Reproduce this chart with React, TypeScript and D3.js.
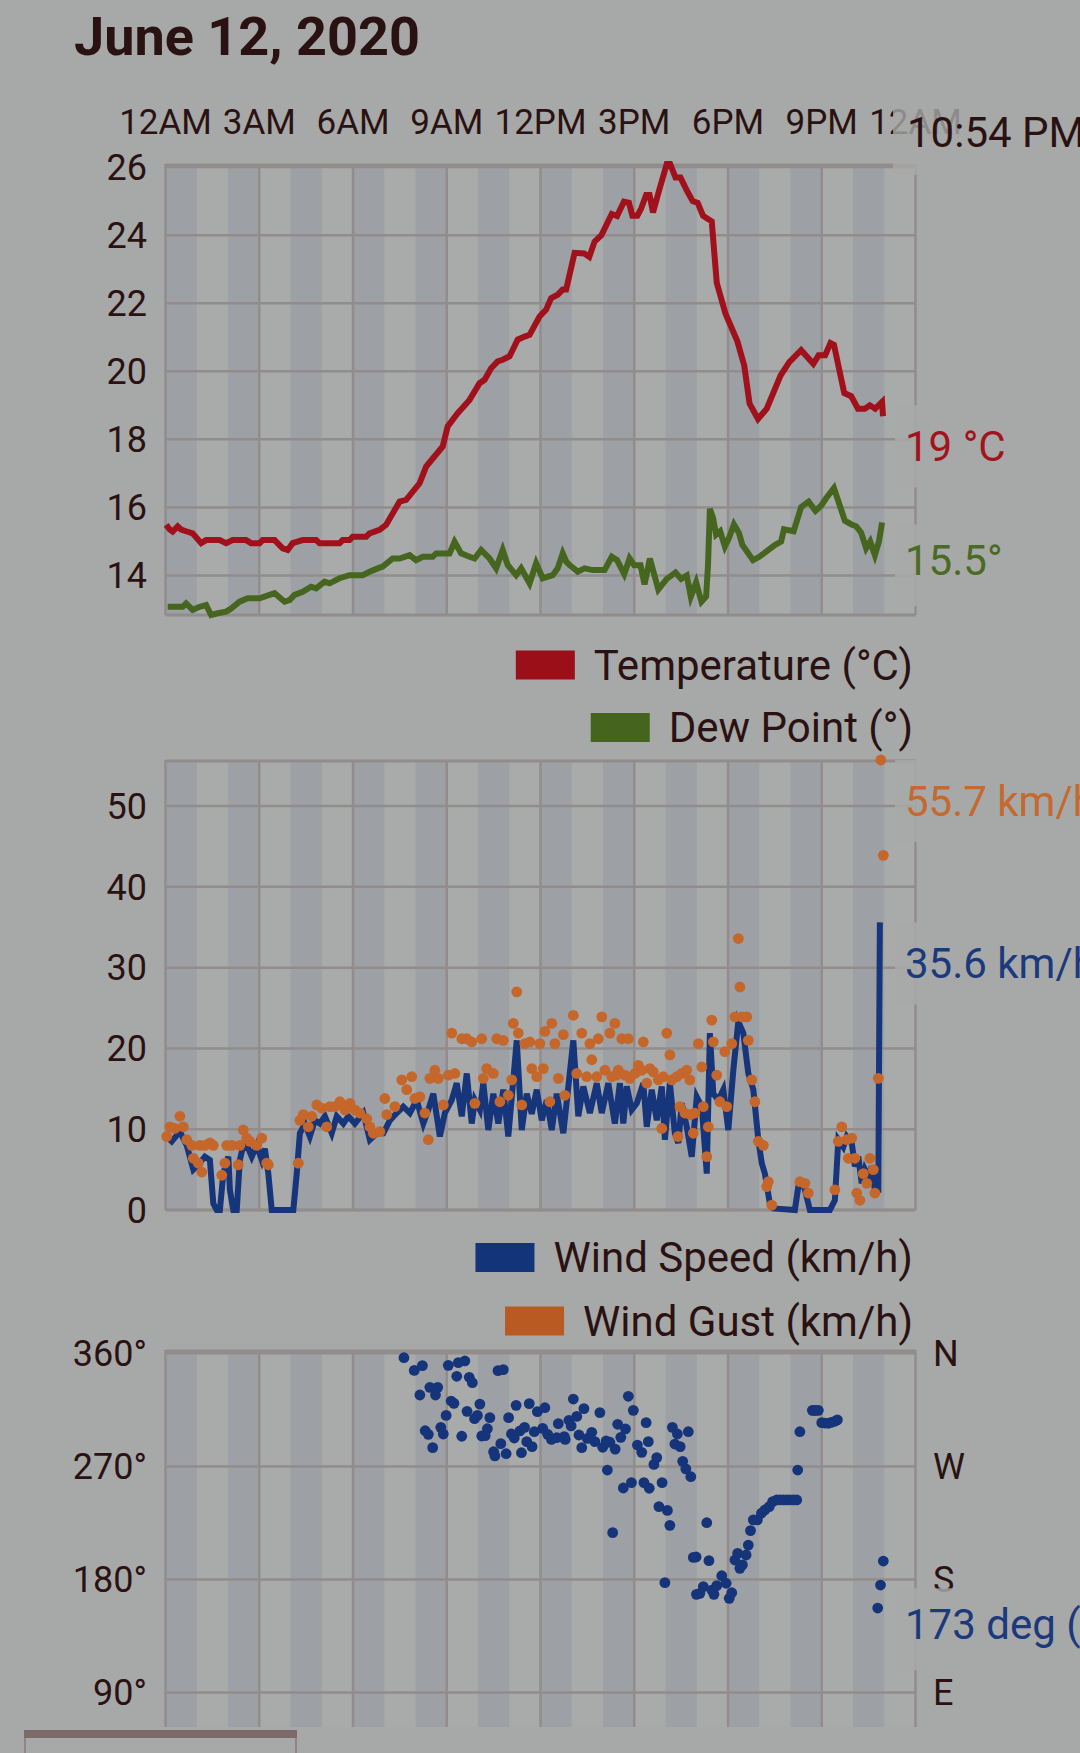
import * as d3 from "d3";
import { useEffect, useRef } from "react";

const W = 1080;
const H = 1753;

const BG = "#a7a9a8";
const STRIPE = "#9da0a5";
const GRID = "#928d8c";
const INK = "#2b1212";

const hourTicks = [0, 3, 6, 9, 12, 15, 18, 21, 24];
const hourLabels = ["12AM", "3AM", "6AM", "9AM", "12PM", "3PM", "6PM", "9PM", "12AM"];
const nowLabel = "10:54 PM";

const tempTicks = [14, 16, 18, 20, 22, 24, 26];
const windTicks = [0, 10, 20, 30, 40, 50];
const dirTicks = [90, 180, 270, 360];
const dirTickLabels = ["90°", "180°", "270°", "360°"];
const compassLabels = ["E", "S", "W", "N"];

// [hour of day, value]
const temperature: [number, number][] = [
  [0.02, 15.49], [0.14, 15.35], [0.23, 15.29], [0.39, 15.44], [0.5, 15.35], [0.66, 15.3], [0.87, 15.24],
  [1.14, 14.95], [1.3, 15.04], [1.73, 15.04], [1.94, 14.95], [2.15, 15.04], [2.58, 15.04], [2.74, 14.95],
  [3.01, 14.95], [3.11, 15.04], [3.49, 15.04], [3.75, 14.8], [3.91, 14.75], [4.07, 14.95], [4.39, 15.04],
  [4.82, 15.04], [4.93, 14.95], [5.57, 14.95], [5.67, 15.04], [5.89, 15.04], [5.99, 15.14], [6.42, 15.14],
  [6.53, 15.24], [6.85, 15.34], [7.06, 15.49], [7.49, 16.17], [7.7, 16.22], [8.13, 16.71], [8.34, 17.2],
  [8.87, 17.79], [9.03, 18.38], [9.35, 18.77], [9.73, 19.16], [10.05, 19.65], [10.21, 19.75], [10.42, 20.09],
  [10.63, 20.29], [10.79, 20.34], [11.01, 20.44], [11.27, 20.93], [11.49, 21.02], [11.65, 21.07], [11.97, 21.61],
  [12.18, 21.81], [12.34, 22.15], [12.55, 22.25], [12.71, 22.4], [12.82, 22.4], [13.09, 23.48], [13.4, 23.46],
  [13.56, 23.36], [13.73, 23.81], [13.95, 24.0], [14.28, 24.62], [14.45, 24.56], [14.67, 24.98], [14.83, 24.95],
  [14.94, 24.57], [15.1, 24.57], [15.22, 24.78], [15.38, 25.18], [15.49, 25.18], [15.6, 24.67], [15.77, 25.23],
  [16.04, 26.09], [16.15, 26.09], [16.32, 25.69], [16.48, 25.69], [16.7, 25.28], [16.87, 25.0], [17.03, 24.95],
  [17.2, 24.57], [17.37, 24.47], [17.48, 24.4], [17.64, 22.6], [17.92, 21.69], [18.3, 20.88], [18.52, 20.17],
  [18.69, 19.05], [18.96, 18.6], [19.24, 18.9], [19.68, 19.87], [19.96, 20.27], [20.34, 20.62], [20.73, 20.22],
  [20.9, 20.47], [21.11, 20.47], [21.28, 20.83], [21.39, 20.78], [21.72, 19.36], [21.94, 19.27], [22.16, 18.9],
  [22.38, 18.9], [22.54, 19.0], [22.71, 18.9], [22.93, 19.1], [22.96, 18.68],
];

const dewPoint: [number, number][] = [
  [0.07, 13.08], [0.55, 13.08], [0.66, 13.18], [0.87, 12.99], [1.09, 13.08], [1.3, 13.13], [1.46, 12.84],
  [1.67, 12.89], [1.94, 12.94], [2.1, 13.03], [2.37, 13.23], [2.63, 13.33], [3.01, 13.33], [3.33, 13.43],
  [3.49, 13.48], [3.81, 13.23], [3.97, 13.28], [4.13, 13.43], [4.39, 13.52], [4.66, 13.67], [4.82, 13.62],
  [5.09, 13.82], [5.25, 13.77], [5.57, 13.92], [5.89, 14.01], [6.31, 14.01], [6.53, 14.11], [6.79, 14.21],
  [6.95, 14.26], [7.27, 14.5], [7.49, 14.5], [7.81, 14.6], [8.02, 14.45], [8.23, 14.55], [8.55, 14.55],
  [8.66, 14.65], [9.09, 14.65], [9.25, 14.99], [9.46, 14.65], [9.73, 14.55], [9.89, 14.5], [10.1, 14.75],
  [10.37, 14.5], [10.58, 14.21], [10.79, 14.75], [10.95, 14.31], [11.22, 14.01], [11.38, 14.21], [11.65, 13.77],
  [11.86, 14.36], [12.07, 13.92], [12.39, 14.01], [12.55, 14.21], [12.71, 14.65], [12.83, 14.4], [12.93, 14.31],
  [13.09, 14.19], [13.19, 14.11], [13.41, 14.21], [13.67, 14.16], [14.05, 14.16], [14.28, 14.55], [14.45, 14.45],
  [14.68, 14.04], [14.85, 14.5], [15.0, 14.3], [15.2, 14.3], [15.33, 13.74], [15.5, 14.5], [15.77, 13.59],
  [16.04, 13.9], [16.32, 14.09], [16.5, 13.9], [16.68, 14.0], [16.81, 13.38], [16.98, 13.8], [17.15, 13.23],
  [17.3, 13.38], [17.36, 14.3], [17.42, 15.96], [17.52, 15.7], [17.62, 15.2], [17.75, 15.3], [17.9, 14.85],
  [18.03, 15.1], [18.19, 15.5], [18.35, 15.25], [18.46, 14.9], [18.8, 14.45], [19.0, 14.55], [19.51, 14.9],
  [19.7, 15.0], [19.79, 15.36], [20.1, 15.3], [20.34, 16.01], [20.58, 16.17], [20.8, 15.9], [20.98, 16.05],
  [21.14, 16.27], [21.39, 16.57], [21.74, 15.61], [21.95, 15.5], [22.1, 15.45], [22.26, 15.26], [22.42, 14.8],
  [22.55, 15.0], [22.7, 14.6], [22.83, 15.0], [22.93, 15.56],
];

const windSpeed: [number, number][] = [
  [0.04, 9.1], [0.2, 8.5], [0.46, 9.7], [0.68, 8.0], [0.89, 5.0], [1.05, 5.6], [1.26, 6.6], [1.42, 6.2],
  [1.53, 0.8], [1.64, 0], [1.74, 0], [1.85, 4.5], [2.01, 6.6], [2.06, 2.5], [2.17, 0], [2.28, 0], [2.38, 6.2],
  [2.49, 8.0], [2.65, 7.6], [2.76, 6.6], [2.92, 8.0], [3.08, 6.2], [3.18, 7.6], [3.29, 4.5], [3.4, 0], [4.09, 0],
  [4.2, 4.5], [4.3, 9.5], [4.46, 10.7], [4.62, 9.1], [4.78, 11.1], [4.94, 10.7], [5.1, 11.6], [5.32, 9.5],
  [5.48, 11.6], [5.69, 10.7], [5.85, 11.6], [6.06, 10.7], [6.33, 12.0], [6.54, 8.7], [6.76, 9.5], [6.97, 9.5],
  [7.18, 11.1], [7.4, 12.0], [7.61, 12.8], [7.82, 12.0], [8.04, 13.6], [8.25, 10.7], [8.41, 12.4], [8.57, 14.4],
  [8.78, 9.1], [8.94, 12.0], [9.16, 13.6], [9.32, 15.7], [9.48, 11.6], [9.64, 16.9], [9.8, 10.7], [9.9, 13.6],
  [10.06, 12.4], [10.17, 15.7], [10.33, 9.9], [10.49, 14.4], [10.65, 10.7], [10.81, 14.9], [10.97, 9.1],
  [11.24, 21.0], [11.4, 9.9], [11.56, 14.4], [11.72, 11.9], [11.88, 14.9], [12.04, 11.1], [12.2, 13.6],
  [12.36, 9.9], [12.52, 14.4], [12.73, 9.5], [13.05, 21.0], [13.21, 11.6], [13.37, 15.3], [13.58, 12.0],
  [13.8, 15.7], [13.96, 12.0], [14.17, 15.7], [14.38, 10.7], [14.54, 15.7], [14.65, 10.7], [14.76, 15.3],
  [14.92, 12.4], [15.08, 13.2], [15.29, 15.7], [15.4, 10.3], [15.56, 14.9], [15.72, 11.1], [15.88, 15.3],
  [15.98, 8.7], [16.14, 15.7], [16.3, 9.5], [16.41, 8.3], [16.52, 13.2], [16.68, 10.3], [16.84, 6.6],
  [17.0, 14.0], [17.16, 12.8], [17.32, 4.5], [17.42, 21.9], [17.53, 14.4], [17.69, 13.6], [17.85, 14.9],
  [18.01, 9.9], [18.17, 17.3], [18.33, 23.3], [18.49, 21.9], [18.65, 16.9], [18.81, 14.9], [18.97, 8.7],
  [19.08, 5.8], [19.18, 4.5], [19.34, 0.8], [19.45, 0.2], [20.14, 0], [20.25, 2.9], [20.41, 3.3], [20.62, 0],
  [21.26, 0], [21.42, 1.2], [21.53, 8.7], [21.69, 7.8], [21.8, 9.1], [21.96, 8.3], [22.06, 5.4], [22.17, 6.6],
  [22.28, 3.3], [22.38, 5.0], [22.49, 4.1], [22.6, 5.4], [22.7, 2.5], [22.81, 2.5], [22.86, 35.6],
];

const windGust: [number, number][] = [
  [0.04, 9.1], [0.14, 10.3], [0.3, 10.1], [0.46, 11.6], [0.57, 10.3], [0.68, 8.7], [0.84, 8.0], [0.89, 6.4],
  [1.05, 5.8], [1.16, 4.7], [1.1, 8.0], [1.26, 8.0], [1.42, 8.3], [1.53, 8.0], [1.8, 4.3], [1.9, 5.8],
  [1.96, 8.0], [2.12, 8.0], [2.33, 5.6], [2.38, 8.0], [2.49, 9.9], [2.6, 8.9], [2.7, 8.5], [2.92, 8.0],
  [3.08, 8.9], [3.24, 5.8], [3.29, 5.6], [4.25, 5.8], [4.3, 11.1], [4.41, 11.8], [4.57, 10.3], [4.68, 11.6],
  [4.84, 13.0], [5.0, 12.6], [5.16, 10.3], [5.26, 12.8], [5.42, 12.8], [5.58, 13.4], [5.74, 12.4], [5.9, 13.2],
  [6.06, 12.4], [6.22, 12.0], [6.44, 11.3], [6.54, 10.3], [6.65, 9.5], [6.86, 9.7], [7.02, 13.8], [7.08, 11.8],
  [7.34, 12.8], [7.56, 16.1], [7.72, 14.9], [7.88, 16.5], [7.98, 13.8], [8.14, 14.0], [8.3, 12.0], [8.41, 8.7],
  [8.46, 16.3], [8.62, 17.3], [8.73, 16.3], [8.89, 13.0], [9.05, 16.7], [9.16, 21.9], [9.26, 16.9], [9.48, 21.2],
  [9.64, 21.2], [9.8, 20.8], [9.9, 13.2], [10.12, 21.2], [10.17, 16.3], [10.28, 17.5], [10.49, 16.9],
  [10.6, 21.2], [10.7, 13.4], [10.81, 21.0], [10.97, 14.2], [11.08, 16.1], [11.13, 23.1], [11.24, 27.0],
  [11.29, 21.9], [11.4, 13.0], [11.5, 20.6], [11.66, 20.8], [11.72, 17.5], [11.88, 16.5], [11.98, 20.6],
  [12.09, 17.5], [12.14, 22.1], [12.3, 13.4], [12.36, 23.1], [12.46, 20.6], [12.57, 16.3], [12.73, 21.7],
  [12.78, 14.2], [13.05, 24.1], [13.16, 16.9], [13.32, 21.9], [13.48, 16.5], [13.58, 20.6], [13.64, 18.6],
  [13.8, 16.5], [13.85, 21.2], [13.96, 23.9], [14.06, 17.3], [14.22, 21.9], [14.28, 16.5], [14.38, 23.1],
  [14.43, 16.7], [14.49, 17.3], [14.6, 21.2], [14.7, 16.7], [14.81, 21.2], [14.86, 16.3], [15.02, 16.9],
  [15.13, 17.9], [15.24, 17.3], [15.29, 20.8], [15.4, 15.7], [15.5, 17.5], [15.61, 17.1], [15.77, 16.1],
  [15.88, 10.1], [15.93, 16.5], [16.04, 21.9], [16.14, 19.2], [16.2, 16.1], [16.36, 16.5], [16.4, 9.1],
  [16.46, 12.8], [16.52, 16.9], [16.62, 12.0], [16.68, 17.3], [16.78, 16.1], [16.8, 11.8], [16.89, 9.5],
  [16.94, 12.0], [17.05, 20.6], [17.16, 17.7], [17.21, 12.8], [17.32, 6.6], [17.37, 10.3], [17.48, 23.5],
  [17.53, 20.8], [17.64, 16.7], [17.74, 13.4], [17.9, 19.6], [17.96, 12.8], [18.12, 20.6], [18.22, 23.9],
  [18.33, 33.6], [18.38, 27.6], [18.44, 23.9], [18.6, 23.9], [18.65, 21.0], [18.76, 16.1], [18.86, 13.4],
  [18.97, 8.5], [19.13, 8.0], [19.24, 2.9], [19.29, 3.5], [19.4, 0.6], [20.3, 3.5], [20.46, 3.3], [20.57, 2.1],
  [21.42, 2.5], [21.53, 8.5], [21.64, 10.3], [21.8, 8.7], [21.85, 6.4], [21.96, 8.9], [22.06, 6.4],
  [22.12, 2.1], [22.22, 1.2], [22.33, 4.5], [22.44, 3.3], [22.54, 6.4], [22.65, 5.0], [22.7, 2.1],
  [22.81, 16.3], [22.89, 55.7], [22.97, 43.9],
];

const windDirection: [number, number][] = [
  [7.63, 356.5], [7.96, 346.4], [8.14, 326.8], [8.22, 350.2], [8.31, 298.4], [8.41, 295.5], [8.46, 332.9],
  [8.55, 284.9], [8.64, 326.8], [8.71, 332.9], [8.81, 301.1], [8.89, 295.8], [8.98, 310.6], [9.05, 350.4],
  [9.14, 322.0], [9.23, 320.2], [9.32, 341.7], [9.37, 352.6], [9.48, 294.0], [9.58, 353.9], [9.65, 313.8],
  [9.72, 340.9], [9.82, 336.6], [9.89, 308.0], [9.98, 310.6], [10.06, 319.6], [10.12, 294.2], [10.23, 294.5],
  [10.3, 300.0], [10.38, 308.8], [10.5, 281.7], [10.54, 278.3], [10.64, 346.2], [10.73, 288.1], [10.81, 347.0],
  [10.9, 280.1], [10.98, 308.8], [11.07, 295.8], [11.16, 292.6], [11.22, 318.6], [11.34, 298.2], [11.39, 280.9],
  [11.49, 301.1], [11.56, 289.7], [11.64, 320.0], [11.73, 285.7], [11.8, 297.6], [11.9, 313.6], [12.07, 300.3],
  [12.14, 316.7], [12.23, 295.5], [12.35, 291.5], [12.52, 292.9], [12.57, 304.0], [12.76, 293.7], [12.79, 291.5],
  [12.91, 306.7], [12.98, 302.2], [13.05, 323.6], [13.16, 309.8], [13.23, 295.0], [13.32, 284.9], [13.39, 316.0],
  [13.5, 292.3], [13.64, 297.1], [13.74, 289.7], [13.9, 312.8], [13.99, 285.2], [14.1, 290.2], [14.14, 267.1],
  [14.22, 289.2], [14.31, 217.3], [14.39, 283.8], [14.47, 303.5], [14.57, 293.1], [14.65, 252.8], [14.72, 299.8],
  [14.81, 325.8], [14.91, 257.1], [14.97, 314.6], [15.1, 287.0], [15.24, 281.2], [15.31, 257.1], [15.38, 304.8],
  [15.45, 289.7], [15.48, 252.6], [15.63, 271.6], [15.72, 277.0], [15.79, 238.0], [15.89, 257.1], [15.98, 177.5],
  [16.06, 235.0], [16.14, 223.1], [16.22, 301.1], [16.3, 287.8], [16.38, 295.8], [16.47, 285.7], [16.55, 274.0],
  [16.65, 268.0], [16.73, 297.6], [16.81, 261.8], [16.89, 197.6], [16.98, 197.9], [16.99, 168.2], [17.1, 169.0],
  [17.21, 174.3], [17.32, 225.2], [17.39, 195.0], [17.48, 171.6], [17.55, 168.2], [17.64, 175.1], [17.8, 183.0],
  [17.94, 177.0], [18.04, 165.0], [18.12, 169.5], [18.22, 195.5], [18.31, 200.8], [18.38, 188.9], [18.46, 191.6],
  [18.58, 199.5], [18.65, 207.4], [18.72, 218.9], [18.81, 227.4], [18.94, 227.4], [19.07, 232.7], [19.18, 235.3],
  [19.32, 238.0], [19.43, 242.0], [19.56, 243.3], [19.66, 243.3], [19.77, 243.3], [19.88, 243.3], [19.98, 243.3],
  [20.09, 243.3], [20.2, 243.3], [20.23, 267.1], [20.3, 297.6], [20.7, 314.6], [20.75, 314.6], [20.8, 314.6],
  [20.89, 314.6], [21.0, 304.8], [21.1, 304.5], [21.21, 304.3], [21.3, 305.0], [21.42, 305.9], [21.5, 307.0],
  [22.79, 157.3], [22.88, 175.6], [22.97, 194.7],
];

const latestTemp = "19 °C";
const latestTempValue = 19;
const latestDew = "15.5°";
const latestDewValue = 15.5;
const latestGust = "55.7 km/h";
const latestGustValue = 55.7;
const latestWind = "35.6 km/h";
const latestWindValue = 35.6;
const latestDir = "173 deg (S)";
const latestDirValue = 173;

export default function App() {
  const ref = useRef<SVGSVGElement | null>(null);

  useEffect(() => {
    const svg = d3.select(ref.current);
    svg.selectAll("*").remove();
    svg.style("font-family", "Roboto, 'Noto Sans', sans-serif");

    svg.append("rect").attr("width", W).attr("height", H).attr("fill", BG);

    const x = d3.scaleLinear().domain([0, 24]).range([165.5, 915.5]);

    // temperature chart: domain from the data extremes
    const allTemp = temperature.concat(dewPoint).map((d) => d[1]);
    const yT = d3.scaleLinear().domain([d3.min(allTemp)!, d3.max(allTemp)!]).range([615, 164]);
    const yW = d3.scaleLinear().domain([0, d3.max(windGust, (d) => d[1])!]).range([1210, 760]);
    const yD = d3.scaleLinear().domain([0, 360]).range([1805.7, 1353.3]);

    function frame(top: number, bottom: number, yScale: d3.ScaleLinear<number, number>, ticks: number[]) {
      const g = svg.append("g");
      g.append("rect")
        .attr("x", x(0)).attr("y", top)
        .attr("width", x(24) - x(0)).attr("height", bottom - top)
        .attr("fill", "#a9abaa");
      g.selectAll("rect.stripe")
        .data(d3.range(0, 24, 2))
        .enter().append("rect")
        .attr("class", "stripe")
        .attr("x", (h) => x(h)).attr("y", top)
        .attr("width", x(1) - x(0)).attr("height", bottom - top)
        .attr("fill", STRIPE);
      g.selectAll("line.h")
        .data(ticks)
        .enter().append("line")
        .attr("class", "h")
        .attr("x1", x(0)).attr("x2", x(24))
        .attr("y1", (t) => yScale(t)).attr("y2", (t) => yScale(t))
        .attr("stroke", GRID).attr("stroke-width", 2.5);
      g.selectAll("line.v")
        .data(hourTicks)
        .enter().append("line")
        .attr("class", "v")
        .attr("x1", (h) => x(h)).attr("x2", (h) => x(h))
        .attr("y1", top).attr("y2", bottom)
        .attr("stroke", GRID).attr("stroke-width", 2.5);
      g.append("line")
        .attr("x1", x(0)).attr("x2", x(24)).attr("y1", top + 1).attr("y2", top + 1)
        .attr("stroke", GRID).attr("stroke-width", 3);
      g.append("line")
        .attr("x1", x(0)).attr("x2", x(24)).attr("y1", bottom).attr("y2", bottom)
        .attr("stroke", GRID).attr("stroke-width", 3);
    }

    function leftTicks(yScale: d3.ScaleLinear<number, number>, ticks: number[], labels: string[]) {
      svg.append("g").selectAll("text")
        .data(ticks)
        .enter().append("text")
        .attr("x", 147)
        .attr("y", (t) => yScale(t) + 36 * 0.355)
        .attr("text-anchor", "end")
        .attr("font-size", 36)
        .attr("fill", INK)
        .text((_t, i) => labels[i]);
    }

    function valueLabel(yTop: number, text: string, color: string, dy = 0) {
      svg.append("rect")
        .attr("x", 895).attr("y", yTop)
        .attr("width", W - 895).attr("height", 82)
        .attr("fill", BG).attr("fill-opacity", 0.85);
      svg.append("text")
        .attr("x", 905).attr("y", yTop + 41 + 42 * 0.355 + dy)
        .attr("font-size", 42)
        .attr("fill", color)
        .text(text);
    }

    function legend(cy: number, text: string, color: string) {
      const t = svg.append("text")
        .attr("x", 913).attr("y", cy + 42 * 0.355)
        .attr("text-anchor", "end")
        .attr("font-size", 42)
        .attr("fill", INK)
        .text(text);
      const w = (t.node() as SVGTextElement).getComputedTextLength();
      svg.append("rect")
        .attr("x", 913 - w - 19 - 59).attr("y", cy - 14.5)
        .attr("width", 59).attr("height", 29)
        .attr("fill", color);
    }

    // title
    svg.append("text")
      .attr("x", 74).attr("y", 55)
      .attr("font-size", 54).attr("font-weight", 700)
      .attr("fill", INK)
      .text("June 12, 2020");

    // top time axis
    svg.append("g").selectAll("text")
      .data(hourTicks)
      .enter().append("text")
      .attr("x", (h) => x(h)).attr("y", 134)
      .attr("text-anchor", "middle")
      .attr("font-size", 35)
      .attr("fill", INK)
      .text((_h, i) => hourLabels[i]);

    // ---- temperature / dew point ----
    frame(164, 615, yT, tempTicks);
    leftTicks(yT, tempTicks, tempTicks.map(String));

    const line = d3.line<[number, number]>()
      .x((d) => x(d[0]));

    svg.append("path")
      .attr("d", line.y((d) => yT(d[1]))(dewPoint))
      .attr("fill", "none").attr("stroke", "#46661f").attr("stroke-width", 6);
    svg.append("path")
      .attr("d", line.y((d) => yT(d[1]))(temperature))
      .attr("fill", "none").attr("stroke", "#a0111c").attr("stroke-width", 6);

    valueLabel(yT(latestTempValue), latestTemp, "#a3131d");
    valueLabel(yT(latestDewValue), latestDew, "#4a6a25", -5);

    legend(665, "Temperature (°C)", "#9b0f18");
    legend(727.5, "Dew Point (°)", "#45651e");

    // ---- wind ----
    frame(760, 1210, yW, windTicks);
    leftTicks(yW, windTicks, windTicks.map(String));

    svg.append("path")
      .attr("d", line.y((d) => yW(d[1]))(windSpeed))
      .attr("fill", "none").attr("stroke", "#17357a").attr("stroke-width", 6);
    svg.append("g").selectAll("circle")
      .data(windGust)
      .enter().append("circle")
      .attr("cx", (d) => x(d[0])).attr("cy", (d) => yW(d[1]))
      .attr("r", 5.4)
      .attr("fill", "#c5662b");

    valueLabel(yW(latestGustValue), latestGust, "#c46a30");
    valueLabel(yW(latestWindValue), latestWind, "#1b397c");

    legend(1257.5, "Wind Speed (km/h)", "#14347a");
    legend(1321, "Wind Gust (km/h)", "#b85a22");

    // ---- wind direction ----
    frame(1350, 1753, yD, dirTicks);
    leftTicks(yD, dirTicks, dirTickLabels);
    svg.append("g").selectAll("text")
      .data(dirTicks)
      .enter().append("text")
      .attr("x", 933)
      .attr("y", (t) => yD(t) + 36 * 0.355)
      .attr("font-size", 36)
      .attr("fill", INK)
      .text((_t, i) => compassLabels[i]);

    svg.append("g").selectAll("circle")
      .data(windDirection)
      .enter().append("circle")
      .attr("cx", (d) => x(d[0])).attr("cy", (d) => yD(d[1]))
      .attr("r", 5.4)
      .attr("fill", "#15347a");

    valueLabel(yD(latestDirValue), latestDir, "#1b397c", -5);

    // current time tag over the top axis
    svg.append("rect")
      .attr("x", 893).attr("y", 90)
      .attr("width", W - 893).attr("height", 85)
      .attr("fill", BG).attr("fill-opacity", 0.8);
    svg.append("text")
      .attr("x", 907).attr("y", 147)
      .attr("font-size", 42)
      .attr("fill", INK)
      .text(nowLabel);

    // bottom tab bar
    svg.append("rect")
      .attr("x", 0).attr("y", 1727).attr("width", W).attr("height", H - 1727)
      .attr("fill", BG);
    svg.append("rect")
      .attr("x", 25).attr("y", 1731).attr("width", 271).attr("height", 40)
      .attr("fill", BG).attr("stroke", "#8d8685").attr("stroke-width", 2);
    svg.append("rect")
      .attr("x", 24).attr("y", 1730).attr("width", 273).attr("height", 8)
      .attr("fill", "#7b6a68");
  }, []);

  return (
    <svg
      ref={ref}
      width={W}
      height={H}
      style={{ position: "absolute", left: 0, top: 0, display: "block" }}
    />
  );
}
